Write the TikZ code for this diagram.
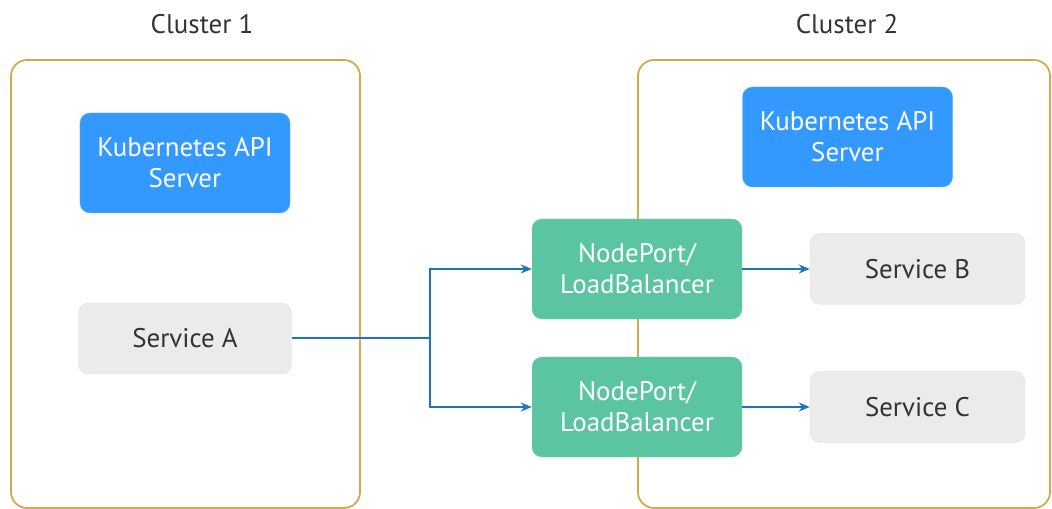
\documentclass[tikz,border=0pt]{standalone}
\usepackage{fontspec}
\setmainfont{PT Sans}
\usetikzlibrary{arrows.meta}
\definecolor{clusterline}{HTML}{D4A84B}
\definecolor{apiblue}{HTML}{3399FF}
\definecolor{lbgreen}{HTML}{5BC4A0}
\definecolor{svcgray}{HTML}{EBEBEB}
\definecolor{flowblue}{HTML}{1E74C0}
\definecolor{txtdark}{HTML}{333333}

\begin{document}
\begin{tikzpicture}[x=1bp, y=-1bp, every node/.style={align=center, font=\fontsize{27}{31}\selectfont},
    cluster/.style={draw=clusterline, line width=1.8bp, rounded corners=16bp, minimum width=349bp, minimum height=448bp, inner sep=0pt},
    apibox/.style={fill=apiblue, draw=apiblue!80!white, text=white, rounded corners=10bp, minimum width=210bp, minimum height=100bp, inner sep=0pt},
    lbbox/.style={fill=lbgreen, draw=lbgreen!80!white, text=white, rounded corners=10bp, minimum width=210bp, minimum height=100bp, inner sep=0pt},
    svcbox/.style={fill=svcgray, draw=black!12, text=txtdark, rounded corners=10bp, minimum width=213bp, minimum height=71bp, inner sep=0pt},
    flow/.style={draw=flowblue, line width=2bp, -{Stealth[length=11bp, width=9bp]}}]
    \useasboundingbox (0,0) rectangle (1052,509);
    \node[cluster] (C1) at (185.5,284) {};
    \node[cluster, minimum width=412bp] (C2) at (844,284) {};
    \node[text=txtdark] (T1) at (202,24) {Cluster 1};
    \node[text=txtdark] (T2) at (847,24) {Cluster 2};
    \node[apibox] (API1) at (185,163) {Kubernetes API\\Server};
    \node[apibox] (API2) at (847.5,137) {Kubernetes API\\Server};
    \node[svcbox] (SA) at (185,338.5) {Service A};
    \node[lbbox] (LB1) at (637,269) {NodePort/\\LoadBalancer};
    \node[lbbox] (LB2) at (637,407) {NodePort/\\LoadBalancer};
    \node[svcbox, minimum width=215bp] (SB) at (917.5,269) {Service B};
    \node[svcbox, minimum width=215bp] (SC) at (917.5,407) {Service C};
    \coordinate (split) at (430,338.5);
    \draw[draw=flowblue, line width=2bp] (SA) -- (split);
    \draw[flow] (split) |- (LB1);
    \draw[flow] (split) |- (LB2);
    \draw[flow] (LB1) -- (SB);
    \draw[flow] (LB2) -- (SC);
\end{tikzpicture}
\end{document}
